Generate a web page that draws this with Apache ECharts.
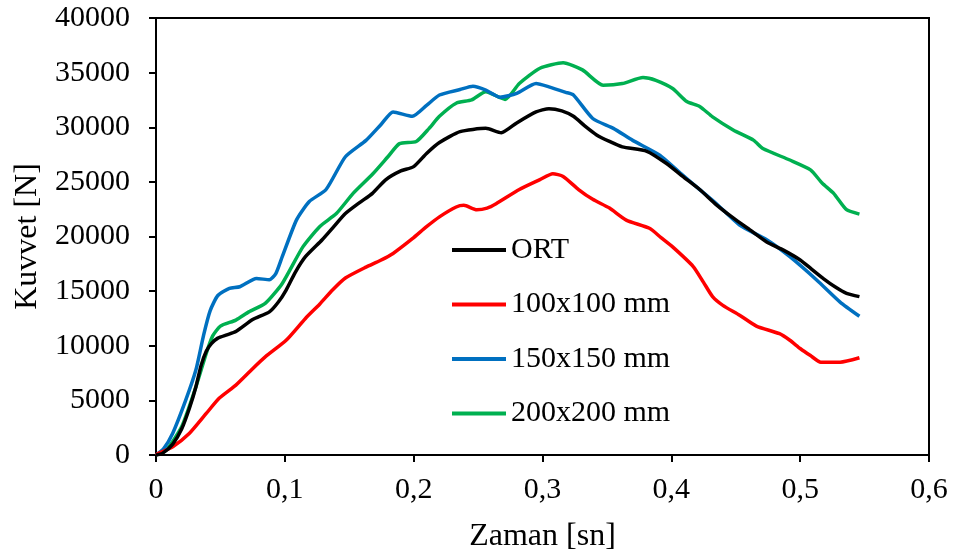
<!DOCTYPE html>
<html>
<head>
<meta charset="utf-8">
<script src="https://cdn.jsdelivr.net/npm/echarts@6/dist/echarts.min.js"></script>
<style>
html,body{margin:0;padding:0;background:#fff;}
#chart{width:957px;height:558px;}
</style>
</head>
<body>
<div id="chart"></div>
<script>
// Series names and values [time (s), force (N)]
var seriesNames = ['ORT', '100x100 mm', '150x150 mm', '200x200 mm'];

var ortData = [
[0,0],[0.005,150],[0.013,1000],[0.02,2400],[0.026,4300],[0.031,6250],[0.035,8200],[0.039,9500],[0.043,10200],
[0.048,10700],[0.055,11000],[0.062,11300],[0.075,12400],[0.088,13100],[0.095,14000],[0.101,15100],
[0.108,16700],[0.116,18150],[0.129,19700],[0.138,20900],[0.147,22100],[0.158,23100],[0.168,23950],
[0.178,25170],[0.19,26000],[0.2,26400],[0.21,27600],[0.22,28600],[0.236,29600],[0.256,29900],
[0.268,29500],[0.28,30400],[0.295,31400],[0.305,31700],[0.315,31500],[0.324,31000],[0.333,30100],
[0.342,29300],[0.352,28700],[0.362,28200],[0.381,27800],[0.396,26700],[0.41,25400],[0.422,24300],
[0.435,22900],[0.448,21700],[0.461,20600],[0.474,19500],[0.487,18750],[0.5,17850],[0.509,17000],
[0.518,16150],[0.527,15400],[0.536,14800],[0.546,14500]
];

var d100Data = [
[0,0],[0.002,150],[0.013,760],[0.026,1990],[0.039,3800],[0.049,5190],[0.062,6400],[0.075,7900],
[0.085,9000],[0.101,10500],[0.116,12500],[0.127,13800],[0.137,15100],[0.147,16200],[0.163,17200],
[0.174,17800],[0.184,18450],[0.199,19800],[0.21,20900],[0.22,21800],[0.233,22700],[0.239,22850],
[0.249,22450],[0.257,22600],[0.264,23000],[0.282,24300],[0.298,25200],[0.308,25750],[0.316,25500],
[0.328,24300],[0.339,23400],[0.352,22600],[0.365,21500],[0.383,20750],[0.392,19900],[0.401,19050],
[0.417,17250],[0.425,15800],[0.432,14500],[0.44,13700],[0.453,12800],[0.466,11800],[0.484,11100],
[0.492,10500],[0.5,9750],[0.508,9100],[0.516,8500],[0.531,8500],[0.546,8900]
];

var d150Data = [
[0,0],[0.006,600],[0.013,2000],[0.023,5000],[0.031,7800],[0.037,11000],[0.042,13200],[0.048,14600],[0.057,15250],
[0.065,15400],[0.078,16150],[0.088,16050],[0.093,16600],[0.098,18150],[0.109,21500],[0.119,23200],
[0.132,24300],[0.147,27300],[0.163,28800],[0.175,30300],[0.184,31400],[0.199,31000],[0.21,32000],
[0.22,32950],[0.236,33450],[0.246,33750],[0.256,33400],[0.267,32750],[0.28,33100],[0.295,34000],
[0.305,33700],[0.318,33200],[0.324,32950],[0.339,30800],[0.355,29900],[0.37,28800],[0.391,27450],
[0.407,25800],[0.42,24500],[0.435,23000],[0.453,21050],[0.474,19700],[0.492,18150],[0.513,16000],
[0.531,14000],[0.546,12700]
];

var d200Data = [
[0,0],[0.008,460],[0.02,2600],[0.031,6250],[0.039,9300],[0.044,10900],[0.05,11800],[0.062,12350],[0.072,13100],
[0.085,13900],[0.098,15700],[0.114,19050],[0.127,20900],[0.14,22100],[0.153,23950],[0.168,25700],
[0.18,27300],[0.189,28500],[0.202,28700],[0.212,29900],[0.22,31000],[0.233,32200],[0.245,32500],
[0.256,33250],[0.271,32550],[0.282,34000],[0.298,35400],[0.316,35900],[0.331,35250],[0.347,33850],
[0.362,34000],[0.378,34550],[0.388,34300],[0.401,33550],[0.412,32350],[0.422,31900],[0.432,30950],
[0.448,29750],[0.464,28800],[0.471,28050],[0.492,27000],[0.508,26100],[0.517,24900],[0.526,23950],
[0.536,22450],[0.546,22050]
];

var xTicks = {min: 0, max: 0.6, interval: 0.1};
var yTicks = {min: 0, max: 40000, interval: 5000};
var colors = ['#000000', '#FF0000', '#0070C0', '#00B050'];
var allData = [ortData, d100Data, d150Data, d200Data];

var FONT = '"Liberation Serif", "Times New Roman", serif';
var chart = echarts.init(document.getElementById('chart'), null, {renderer: 'canvas'});

var series = seriesNames.map(function (n, i) {
  return {
    name: n,
    type: 'line',
    data: allData[i],
    showSymbol: false,
    symbol: 'none',
    smooth: 0.2,
    lineStyle: {color: colors[i], width: 3.5},
    itemStyle: {color: colors[i]},
    z: 10 - i
  };
});

chart.setOption({
  animation: false,
  backgroundColor: '#fff',
  grid: {left: 156, right: 28, top: 18, bottom: 103, show: true, borderColor: '#000', borderWidth: 2, backgroundColor: 'transparent'},
  legend: {
    orient: 'vertical',
    left: 447,
    top: 230,
    itemWidth: 54,
    itemHeight: 4,
    itemGap: 24.5,
    icon: 'rect',
    data: seriesNames,
    textStyle: {fontFamily: FONT, fontSize: 30, color: '#000', lineHeight: 30}
  },
  xAxis: {
    type: 'value',
    min: xTicks.min, max: xTicks.max, interval: xTicks.interval,
    name: 'Zaman [sn]',
    nameLocation: 'middle',
    nameGap: 66,
    nameTextStyle: {fontFamily: FONT, fontSize: 32, color: '#000'},
    axisLine: {show: true, onZero: false, lineStyle: {color: '#000', width: 2}},
    axisTick: {show: true, inside: false, length: 7, lineStyle: {color: '#000', width: 2}},
    splitLine: {show: false},
    axisLabel: {
      fontFamily: FONT, fontSize: 30, color: '#000', margin: 20,
      formatter: function (v) { return v === 0 ? '0' : (+v).toFixed(1).replace('.', ','); }
    }
  },
  yAxis: {
    type: 'value',
    min: yTicks.min, max: yTicks.max, interval: yTicks.interval,
    name: 'Kuvvet [N]',
    nameLocation: 'middle',
    nameGap: 112,
    nameRotate: 90,
    nameTextStyle: {fontFamily: FONT, fontSize: 32, color: '#000'},
    axisLine: {show: true, lineStyle: {color: '#000', width: 2}},
    axisTick: {show: true, inside: false, length: 7, lineStyle: {color: '#000', width: 2}},
    splitLine: {show: false},
    axisLabel: {
      fontFamily: FONT, fontSize: 30, color: '#000', margin: 26,
      formatter: function (v) { return String(v); }
    }
  },
  series: series
});
</script>
</body>
</html>
